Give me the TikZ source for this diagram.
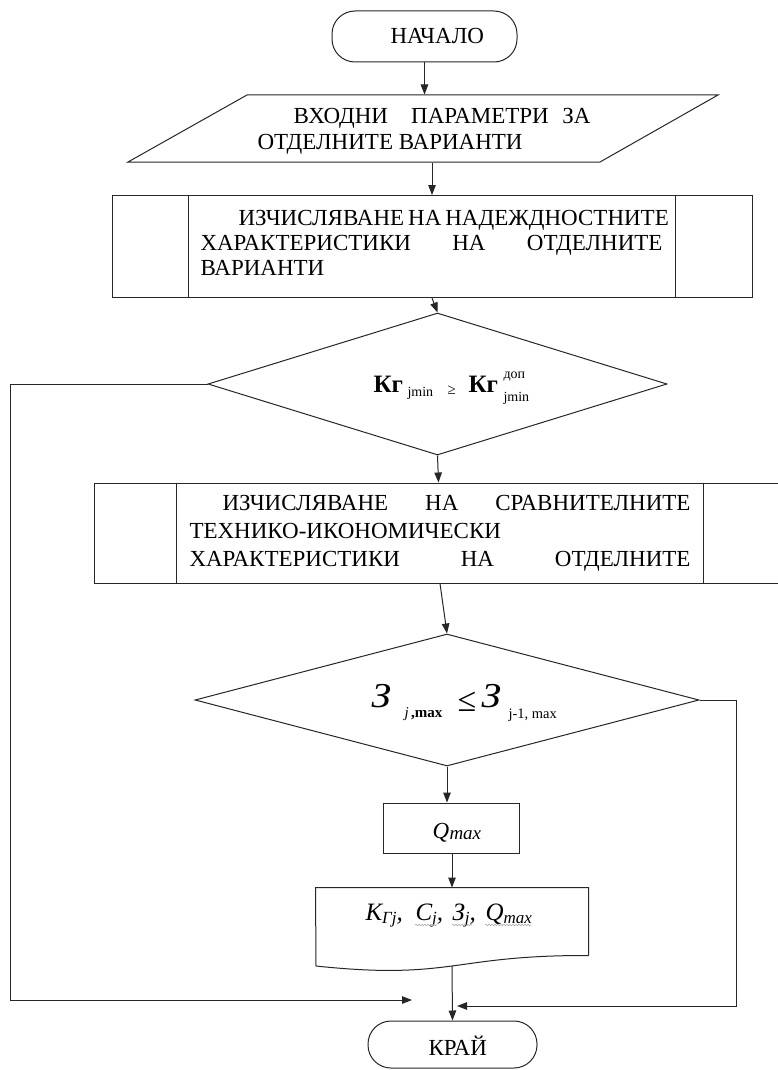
\documentclass[tikz,border=0pt]{standalone}
\usepackage{fontspec}
\setmainfont{Liberation Serif}
\usetikzlibrary{arrows.meta,shapes.geometric,calc,decorations.pathmorphing}
\begin{document}
\begin{tikzpicture}[x=1pt,y=-1pt,
  every path/.style={line width=1pt},
  ln/.style={draw=black!85,line width=1pt},
  term/.style={ln,rectangle,rounded corners=23pt,inner sep=0pt},
  proc/.style={ln,rectangle,inner sep=0pt},
  dec/.style={ln,diamond,inner sep=0pt},
  ghost/.style={rectangle,inner sep=0pt},
  arr/.style={draw=black!85,line width=1pt,-{Triangle[length=10pt,width=7.5pt]}},
  txt/.style={anchor=base west,inner sep=0pt,font=\fontsize{23}{27}\selectfont},
  frm/.style={anchor=base west,inner sep=0pt},
  squig/.style={draw=black!35,line width=0.6pt,decorate,decoration={snake,amplitude=0.7pt,segment length=3pt}}]
\useasboundingbox (0,0) rectangle (778,1070);
\fill[white] (0,0) rectangle (778,1070);

% start
\node[term,minimum width=185,minimum height=51] (start) at (424.5,36.5) {};
\node[txt] (tstart) at (390,44) {НАЧАЛО};

% input parallelogram
\node[ghost,minimum width=472,minimum height=67] (par) at (423,128.5) {};
\draw[ln] (128,162) -- (247,95) -- (718,95) -- (600,162) -- cycle;
\node[txt] (tp1) at (293,124) {\hbox to 297pt{ВХОДНИ\hspace{6pt plus 2fill}ПАРАМЕТРИ\hspace{5pt plus 1fill}ЗА}};
\node[txt] (tp2) at (257,149) {ОТДЕЛНИТЕ ВАРИАНТИ};

% box 1
\node[proc,minimum width=640,minimum height=102] (b1) at (432,246.5) {};
\draw[ln] ([xshift=77pt]b1.north west) -- ([xshift=77pt]b1.south west);
\draw[ln] ([xshift=-77pt]b1.north east) -- ([xshift=-77pt]b1.south east);
\node[txt] (t1a) at (200,225.5) {\hbox to 462pt{\hspace{38pt}ИЗЧИСЛЯВАНЕ\hspace{4pt plus 1fill}НА\hspace{4pt plus 1fill}НАДЕЖДНОСТНИТЕ}};
\node[txt] (t1b) at (200,250.5) {\hbox to 462pt{ХАРАКТЕРИСТИКИ\hspace{5pt plus 1fill}НА\hspace{5pt plus 1fill}ОТДЕЛНИТЕ}};
\node[txt] (t1c) at (200,275) {ВАРИАНТИ};

% decision 1
\node[dec,minimum width=459,minimum height=142] (d1) at (437.5,384) {};
\node[frm] (f1a) at (373,392) {\fontsize{25}{25}\selectfont\bfseries Кг};
\node[frm] (f1b) at (407,396) {\fontsize{14}{14}\selectfont jmin};
\node[frm] (f1c) at (447,394) {\fontsize{15}{15}\selectfont ≥};
\node[frm] (f1d) at (468,392) {\fontsize{25}{25}\selectfont\bfseries Кг};
\node[frm] (f1e) at (503,378) {\fontsize{14}{14}\selectfont доп};
\node[frm] (f1f) at (503,401) {\fontsize{14}{14}\selectfont jmin};

% box 2
\node[proc,minimum width=685,minimum height=100] (b2) at (436.5,533) {};
\draw[ln] ([xshift=83pt]b2.north west) -- ([xshift=83pt]b2.south west);
\draw[ln] ([xshift=-76pt]b2.north east) -- ([xshift=-76pt]b2.south east);
\node[txt] (t2a) at (189,510) {\hbox to 501pt{\hspace{33pt}ИЗЧИСЛЯВАНЕ\hspace{5pt plus 1fill}НА\hspace{5pt plus 1fill}СРАВНИТЕЛНИТЕ}};
\node[txt] (t2b) at (189,538) {ТЕХНИКО-ИКОНОМИЧЕСКИ};
\node[txt] (t2c) at (189,566) {\hbox to 501pt{ХАРАКТЕРИСТИКИ\hspace{5pt plus 1fill}НА\hspace{5pt plus 1fill}ОТДЕЛНИТЕ}};

% decision 2
\node[dec,minimum width=504,minimum height=132] (d2) at (447,700) {};
\node[frm] (f2a) at (371,707) {\fontsize{35}{35}\selectfont\itshape\scalebox{1.12}[1]{З}};
\node[frm] (f2b) at (404,717) {\fontsize{15}{15}\selectfont\textit{j}\,\textbf{,max}};
\node[frm] (f2c) at (457,711) {\fontsize{34}{34}\selectfont ≤};
\node[frm] (f2d) at (481,707) {\fontsize{35}{35}\selectfont\itshape\scalebox{1.12}[1]{З}};
\node[frm] (f2e) at (508,718) {\fontsize{14.5}{14.5}\selectfont j-1, max};

% Q box
\node[proc,minimum width=136,minimum height=50] (q) at (451,828) {};
\node[frm] (tq1) at (432,838) {\fontsize{23}{23}\selectfont\itshape Q};
\node[frm] (tq2) at (449,839) {\fontsize{19}{19}\selectfont\itshape max};

% document
\node[ghost,minimum width=272,minimum height=67] (doc) at (452,921.5) {};
\draw[ln] (doc.south east) -- (doc.north east) -- (doc.north west) -- (316,966)
  .. controls (452,980.4) and (452,955) .. (doc.south east);
\coordinate (docb) at (452,966);
\node[frm] (dk) at (365,920) {\fontsize{25}{25}\selectfont\itshape K\raisebox{-3pt}{\fontsize{17}{17}\selectfont Гj},};
\node[frm] (dc) at (415,920) {\fontsize{25}{25}\selectfont\itshape C\raisebox{-3pt}{\fontsize{17}{17}\selectfont j},};
\node[frm] (dz) at (452,920) {\fontsize{25}{25}\selectfont\itshape З\raisebox{-3pt}{\fontsize{17}{17}\selectfont j},};
\node[frm] (dq) at (485,920) {\fontsize{25}{25}\selectfont\itshape Q\raisebox{-3pt}{\fontsize{17}{17}\selectfont max}};
\draw[squig] (415,925) -- (437,925);
\draw[squig] (452,925) -- (472,925);
\draw[squig] (485,925) -- (531,925);

% end
\node[term,minimum width=169,minimum height=47] (end) at (452.5,1044.5) {};
\node[txt] (tend) at (428,1055) {КРАЙ};

% connectors
\coordinate (lc) at (10,1000);
\coordinate (m1) at (412,1000);
\coordinate (rc) at (736,1006);
\coordinate (m2) at (457,1006);
\draw[arr] (start.south) -- (start.south |- par.north);
\draw[arr] (par.south -| b1.north) -- (b1.north);
\draw[arr] (b1.south) -- (d1.north);
\draw[arr] (d1.south) -- ([xshift=2pt]b2.north);
\draw[arr] ([xshift=3.5pt]b2.south) -- (d2.north);
\draw[arr] (d2.south) -- (d2.south |- q.north);
\draw[arr] (q.south -| doc.north) -- (doc.north);
\draw[arr] (docb) -- (end.north);
\draw[arr] (d1.west) -| (lc) -- (m1);
\draw[arr] (d2.east) -| (rc) -- (m2);
\end{tikzpicture}
\end{document}
